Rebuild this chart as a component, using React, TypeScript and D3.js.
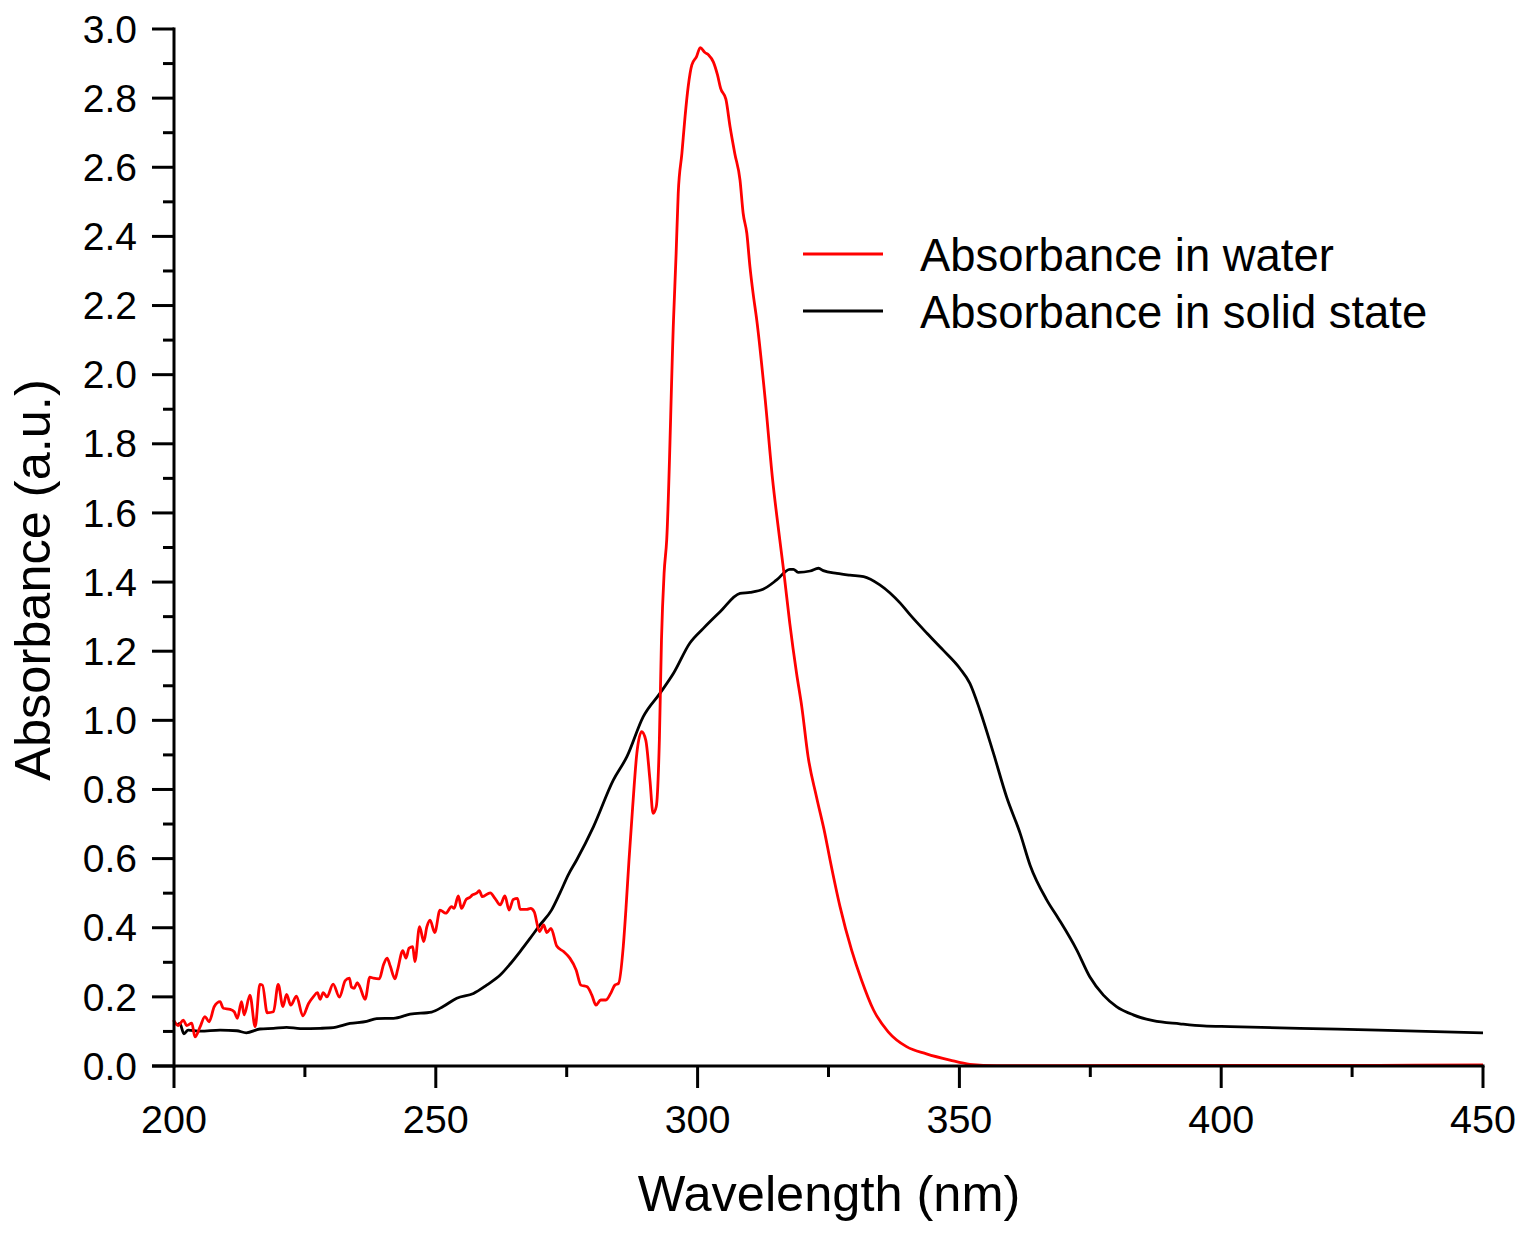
import React from "react";
import * as d3 from "d3";

// Absorbance in water (red)
const waterNm = [
  199.9, 200.8, 201.8, 202.4, 203.4, 204.0, 205.0, 205.9, 206.7, 207.7, 208.8, 209.4, 210.7, 211.5, 212.1,
  212.9, 213.4, 214.5, 215.5, 216.4, 216.9, 217.8, 219.0, 219.9, 220.8, 221.5, 222.3, 223.4, 224.6, 225.7,
  226.6, 227.4, 227.9, 228.5, 229.2, 230.4, 231.6, 232.7, 233.5, 233.9, 234.4, 235.0, 235.5, 236.5, 237.4,
  238.1, 239.2, 240.0, 240.7, 241.3, 242.2, 242.7, 243.7, 244.3, 244.9, 245.6, 246.0, 246.9, 247.7, 248.3,
  248.9, 249.8, 250.8, 251.9, 253.0, 253.5, 254.3, 254.9, 255.8, 256.5, 257.0, 257.8, 258.3, 258.9, 260.4,
  261.3, 262.3, 263.2, 264.0, 264.8, 265.6, 266.1, 267.4, 268.1, 268.8, 269.8, 270.6, 271.2, 272.0, 273.1,
  274.4, 275.6, 276.8, 277.7, 278.9, 279.8, 280.6, 281.5, 282.5, 283.4, 284.2, 284.9, 285.8, 286.3, 286.9,
  287.6, 288.4, 289.3, 290.1, 290.9, 291.5, 292.1, 292.7, 293.1, 293.6, 294.1, 295.4, 295.9, 296.3, 297.0,
  297.6, 298.2, 298.9, 299.8, 300.5, 301.4, 302.1, 303.0, 303.8, 304.4, 305.4, 306.2, 307.1, 308.1, 308.7,
  309.4, 310.0, 310.6, 311.3, 312.9, 314.3, 315.7, 316.5, 317.6, 318.9, 319.9, 321.1, 322.7, 324.3, 325.3,
  327.2, 329.4, 331.3, 333.6, 336.4, 339.9, 343.7, 348.2, 352.0, 357.1, 370.0, 400.0, 430.0, 450.0,
];
const waterAbs = [
  0.133, 0.117, 0.133, 0.117, 0.124, 0.084, 0.114, 0.143, 0.128, 0.172, 0.186, 0.167, 0.164, 0.157, 0.138,
  0.186, 0.148, 0.205, 0.114, 0.236, 0.234, 0.154, 0.157, 0.236, 0.172, 0.207, 0.176, 0.202, 0.145, 0.181,
  0.200, 0.212, 0.193, 0.212, 0.200, 0.237, 0.199, 0.247, 0.254, 0.228, 0.225, 0.241, 0.229, 0.193, 0.257,
  0.254, 0.252, 0.292, 0.312, 0.289, 0.252, 0.278, 0.334, 0.312, 0.341, 0.345, 0.302, 0.403, 0.360, 0.403,
  0.422, 0.386, 0.451, 0.442, 0.461, 0.456, 0.492, 0.456, 0.482, 0.488, 0.495, 0.500, 0.507, 0.490, 0.501,
  0.485, 0.466, 0.492, 0.451, 0.482, 0.485, 0.453, 0.453, 0.456, 0.446, 0.389, 0.408, 0.386, 0.398, 0.347,
  0.331, 0.312, 0.278, 0.234, 0.229, 0.205, 0.176, 0.191, 0.191, 0.210, 0.234, 0.239, 0.345, 0.451, 0.596,
  0.750, 0.905, 0.967, 0.943, 0.827, 0.731, 0.750, 0.943, 1.232, 1.425, 1.522, 2.158, 2.351, 2.525, 2.640,
  2.746, 2.833, 2.896, 2.920, 2.946, 2.932, 2.925, 2.905, 2.867, 2.828, 2.797, 2.717, 2.640, 2.563, 2.467,
  2.409, 2.312, 2.235, 2.158, 1.930, 1.700, 1.522, 1.425, 1.281, 1.136, 1.039, 0.895, 0.779, 0.673, 0.596,
  0.461, 0.336, 0.249, 0.162, 0.099, 0.056, 0.035, 0.017, 0.005, 0.001, 0.001, 0.002, 0.002, 0.003,
];

// Absorbance in solid state (black)
const solidNm = [
  200.6, 201.1, 201.9, 202.7, 205.0, 208.8, 212.0, 213.8, 216.4, 219.0, 221.5, 224.1, 227.9, 230.4, 233.6,
  236.8, 238.7, 241.9, 245.1, 249.2, 251.4, 254.0, 257.2, 259.7, 262.3, 264.2, 266.1, 268.0, 269.9, 272.1,
  273.7, 275.3, 276.9, 280.1, 283.9, 286.5, 289.6, 292.8, 295.4, 298.5, 301.1, 304.3, 308.1, 310.0, 312.5,
  315.1, 317.6, 318.3, 319.2, 321.5, 323.1, 324.0, 326.6, 329.1, 331.7, 334.8, 338.7, 340.6, 343.8, 346.9,
  350.1, 352.0, 353.9, 356.5, 359.0, 361.6, 363.5, 366.7, 368.9, 372.4, 374.9, 377.5, 380.0, 383.2, 387.0,
  392.1, 396.6, 401.7, 415.0, 430.0, 450.0,
];
const solidAbs = [
  0.118, 0.123, 0.093, 0.104, 0.101, 0.104, 0.102, 0.096, 0.107, 0.109, 0.112, 0.108, 0.109, 0.111, 0.123,
  0.129, 0.137, 0.138, 0.150, 0.156, 0.172, 0.196, 0.210, 0.234, 0.263, 0.295, 0.331, 0.369, 0.408, 0.451,
  0.500, 0.553, 0.596, 0.692, 0.827, 0.895, 1.010, 1.078, 1.136, 1.223, 1.266, 1.314, 1.367, 1.370, 1.379,
  1.406, 1.437, 1.437, 1.428, 1.432, 1.440, 1.433, 1.425, 1.420, 1.416, 1.392, 1.339, 1.305, 1.252, 1.203,
  1.150, 1.107, 1.030, 0.905, 0.779, 0.673, 0.581, 0.480, 0.427, 0.336, 0.258, 0.205, 0.172, 0.148, 0.131,
  0.122, 0.116, 0.114, 0.109, 0.104, 0.096,
];

const xMajorTicks = [200, 250, 300, 350, 400, 450];
const xMinorTicks = [225, 275, 325, 375, 425];
const yMajorTicks = [0, 0.2, 0.4, 0.6, 0.8, 1.0, 1.2, 1.4, 1.6, 1.8, 2.0, 2.2, 2.4, 2.6, 2.8, 3.0];
const yMinorTicks = [0.1, 0.3, 0.5, 0.7, 0.9, 1.1, 1.3, 1.5, 1.7, 1.9, 2.1, 2.3, 2.5, 2.7, 2.9];

const seriesNames = ["Absorbance in water", "Absorbance in solid state"];
const seriesColors = ["#ff0000", "#000000"];

const W = 1525;
const H = 1233;
const FONT = "'Liberation Sans', Arial, Helvetica, sans-serif";

export default function App() {
  const x = d3.scaleLinear().domain([200, 450]).range([174, 1483]);
  const y = d3.scaleLinear().domain([0, 3]).range([1066, 29]);

  const line = d3
    .line<[number, number]>()
    .x((d) => x(d[0]))
    .y((d) => y(d[1]))
    .curve(d3.curveMonotoneX);

  const water = waterNm.map((n, i) => [n, waterAbs[i]] as [number, number]);
  const solid = solidNm.map((n, i) => [n, solidAbs[i]] as [number, number]);

  const axisColor = "#000";
  const x0 = x(200);
  const yBase = y(0);

  return (
    <svg
      width={W}
      height={H}
      viewBox={`0 0 ${W} ${H}`}
      style={{ position: "absolute", left: 0, top: 0, display: "block", background: "#fff" }}
      fontFamily={FONT}
    >
      <rect x={0} y={0} width={W} height={H} fill="#fff" />
      {/* curves */}
      <path d={line(solid) || ""} fill="none" stroke={seriesColors[1]} strokeWidth={2.8} strokeLinejoin="round" />
      <path d={line(water) || ""} fill="none" stroke={seriesColors[0]} strokeWidth={2.8} strokeLinejoin="round" />

      {/* y axis */}
      <line x1={x0} x2={x0} y1={y(3) - 1.5} y2={yBase + 1.5} stroke={axisColor} strokeWidth={3} />
      {yMajorTicks.map((t) => (
        <g key={`ym${t}`}>
          <line x1={x0 - 22} x2={x0} y1={y(t)} y2={y(t)} stroke={axisColor} strokeWidth={3} />
          <text x={137} y={y(t)} dy="0.35em" textAnchor="end" fontSize={39} fill="#000">
            {t.toFixed(1)}
          </text>
        </g>
      ))}
      {yMinorTicks.map((t) => (
        <line key={`yn${t}`} x1={x0 - 11} x2={x0} y1={y(t)} y2={y(t)} stroke={axisColor} strokeWidth={3} />
      ))}

      {/* x axis */}
      <line x1={x0 - 22} x2={x(450) + 1.5} y1={yBase} y2={yBase} stroke={axisColor} strokeWidth={3} />
      {xMajorTicks.map((t) => (
        <g key={`xm${t}`}>
          <line x1={x(t)} x2={x(t)} y1={yBase} y2={yBase + 22} stroke={axisColor} strokeWidth={3} />
          <text x={x(t)} y={1133} textAnchor="middle" fontSize={39.5} fill="#000">
            {t}
          </text>
        </g>
      ))}
      {xMinorTicks.map((t) => (
        <line key={`xn${t}`} x1={x(t)} x2={x(t)} y1={yBase} y2={yBase + 11} stroke={axisColor} strokeWidth={3} />
      ))}

      {/* axis titles */}
      <text x={829} y={1211} textAnchor="middle" fontSize={50.5} fill="#000">
        Wavelength (nm)
      </text>
      <text transform={`translate(50, 580) rotate(-90)`} textAnchor="middle" fontSize={50.5} fill="#000">
        Absorbance (a.u.)
      </text>

      {/* legend */}
      {seriesNames.map((name, i) => (
        <g key={name}>
          <line
            x1={803}
            x2={883}
            y1={254 + i * 57}
            y2={254 + i * 57}
            stroke={seriesColors[i]}
            strokeWidth={2.8}
          />
          <text x={920} y={271 + i * 57} fontSize={45.4} fill="#000">
            {name}
          </text>
        </g>
      ))}
    </svg>
  );
}
